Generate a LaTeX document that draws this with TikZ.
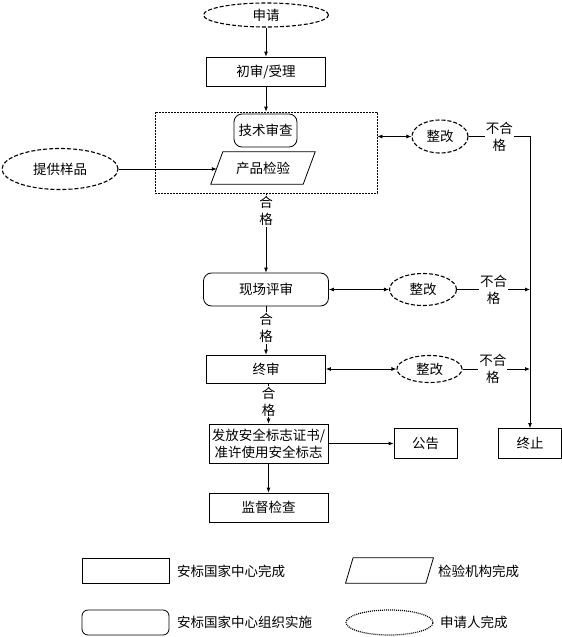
\documentclass[tikz,border=0pt]{standalone}
\usepackage{fontspec}
\setmainfont{Noto Sans CJK SC}
\usetikzlibrary{shapes.geometric,arrows.meta}
\tikzset{
  base/.style={font=\fontsize{13.5}{17}\selectfont, inner sep=0pt, align=center},
  box/.style={base, draw, rectangle, line width=0.8pt},
  rbox/.style={box, rounded corners=8pt},
  dell/.style={base, draw, ellipse, line width=1.1pt, dash pattern=on 4pt off 2pt},
  conn/.style={line width=0.8pt, -{Latex[length=5pt,width=4pt]}},
  dconn/.style={line width=0.8pt, {Latex[length=5pt,width=4pt]}-{Latex[length=5pt,width=4pt]}},
  plain/.style={line width=0.8pt},
  lbl/.style={base, fill=white, inner sep=1pt},
}
\begin{document}
\begin{tikzpicture}[x=1pt,y=-1pt]
\useasboundingbox (0,0) rectangle (562,637);
\fill[white] (0,0) rectangle (562,637);
% nodes
\node[dell, minimum width=125pt, minimum height=24pt] (sq) at (266,15) {申请};
\node[box, minimum width=119pt, minimum height=29pt] (cs) at (266,71.5) {初审/受理};
\node[draw, line width=0.8pt, dash pattern=on 2pt off 1pt, minimum width=222pt, minimum height=81pt, inner sep=0pt] (grp) at (266,152.5) {};
\node[rbox, minimum width=63pt, minimum height=33pt] (js) at (265.5,130.5) {技术审查};
\node[base, minimum width=92pt, minimum height=32pt] (cp) at (263,168) {产品检验};
\draw[plain] ([xshift=-6pt]cp.south west) -- ([xshift=6pt]cp.north west) -- ([xshift=6pt]cp.north east) -- ([xshift=-6pt]cp.south east) -- cycle;
\node[dell, minimum width=116pt, minimum height=41pt] (tg) at (60,169) {提供样品};
\node[dell, minimum width=56pt, minimum height=33pt] (zg1) at (440,136.5) {整改};
\node[rbox, minimum width=125pt, minimum height=33pt] (xc) at (266,289.5) {现场评审};
\node[dell, minimum width=67pt, minimum height=32pt] (zg2) at (423,289.5) {整改};
\node[box, minimum width=119pt, minimum height=28pt] (zs) at (266,369) {终审};
\node[dell, minimum width=65pt, minimum height=27pt] (zg3) at (429.5,369) {整改};
\node[box, minimum width=119pt, minimum height=39pt] (ff) at (268.5,443.5) {发放安全标志证书/\\准许使用安全标志};
\node[box, minimum width=63pt, minimum height=30pt] (gg) at (425.5,443.5) {公告};
\node[box, minimum width=63pt, minimum height=30pt] (zz) at (530,443.5) {终止};
\node[box, minimum width=119pt, minimum height=29pt] (jd) at (268.5,507.5) {监督检查};
\coordinate (rt) at (530,136.5);
% connectors
\draw[conn] (sq.south) -- (sq.south |- cs.north);
\draw[conn] (cs.south) -- (cs.south |- grp.north);
\draw[conn] (tg.east) -- (tg.east -| cp.west);
\draw[dconn] (grp.east |- zg1.west) -- (zg1.west);
\draw[conn] (zg1.east) -- node[lbl]{不合\\格} (rt) -- (zz.north);
\draw[conn] (grp.south) -- node[lbl, anchor=north, pos=0, yshift=-1.5pt]{合\\格} (xc.north);
\draw[dconn] (xc.east) -- (zg2.west);
\draw[conn] (zg2.east) -- node[lbl]{不合\\格} (zg2.east -| rt);
\draw[conn] (xc.south) -- node[lbl, pos=0.45]{合\\格} (zs.north);
\draw[dconn] (zs.east) -- (zg3.west);
\draw[conn] (zg3.east) -- node[lbl, pos=0.45]{不合\\格} (zg3.east -| rt);
\draw[conn] (zs.south -| ff.north) -- node[lbl, pos=0.45]{合\\格} (ff.north);
\draw[conn] (ff.east) -- (ff.east -| gg.west);
\draw[conn] (ff.south) -- (jd.north);
% legend
\node[box, minimum width=87pt, minimum height=25pt] (lg1) at (125.5,570.5) {};
\node[base, anchor=west] (lt1) at (177,571) {安标国家中心完成};
\node[base, minimum width=80pt, minimum height=25pt] (lg2) at (389.5,570.5) {};
\draw[plain] ([xshift=-3.75pt]lg2.south west) -- ([xshift=3.75pt]lg2.north west) -- ([xshift=3.75pt]lg2.north east) -- ([xshift=-3.75pt]lg2.south east) -- cycle;
\node[base, anchor=west] (lt2) at (438,571) {检验机构完成};
\node[box, rounded corners=6pt, minimum width=87pt, minimum height=25pt] (lg3) at (125.5,622.5) {};
\node[base, anchor=west] (lt3) at (177,622) {安标国家中心组织实施};
\node[base, draw, ellipse, line width=1.2pt, dash pattern=on 1pt off 1pt, minimum width=87pt, minimum height=25pt] (lg4) at (389.5,622.5) {};
\node[base, anchor=west] (lt4) at (440,622) {申请人完成};
\end{tikzpicture}
\end{document}
